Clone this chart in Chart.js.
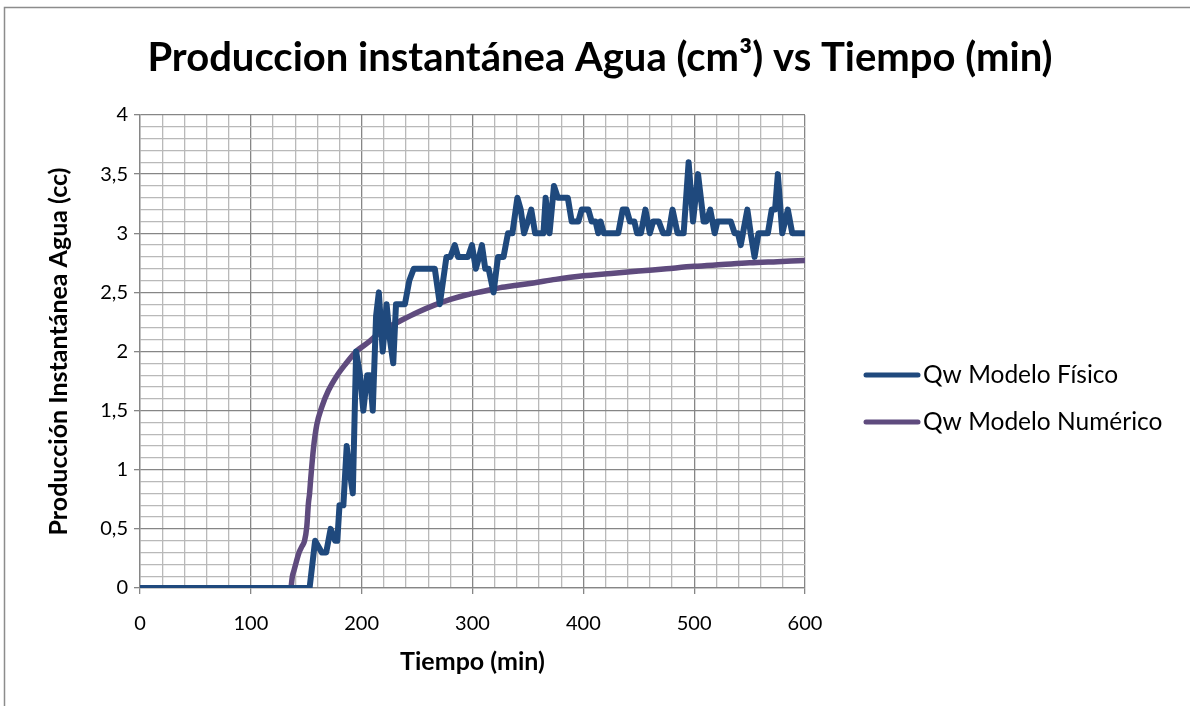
<!DOCTYPE html>
<html>
<head>
<meta charset="utf-8">
<script src="https://cdn.jsdelivr.net/npm/chart.js@4.4.1/dist/chart.umd.min.js"></script>
<style>
  html, body { margin: 0; padding: 0; background: #ffffff; }
  #chart { display: block; }
</style>
</head>
<body>
<canvas id="chart" width="1190" height="706"></canvas>
<script>
// Chart text
const chartTitle = 'Produccion instantánea Agua (cm³) vs Tiempo (min)';
const xAxisTitle = 'Tiempo (min)';
const yAxisTitle = 'Producción Instantánea Agua (cc)';
const seriesNames = ['Qw Modelo Físico', 'Qw Modelo Numérico'];

// Measured water production (physical model): time in min, rate in cc
const tiempoFisico = [
  0, 153, 158, 164, 168, 172, 176, 178, 180, 183.5,
  186.5, 189, 192, 195, 198.5, 201.5, 205, 207.5, 210, 213,
  215.5, 219, 222.5, 225.5, 228.5, 231, 239, 243, 247, 266,
  270.5, 276.5, 280, 284, 287, 296, 299.5, 303, 306, 308.5,
  311.5, 314.5, 319, 323, 328, 332, 336, 340.5, 343.5, 346.5,
  350, 353, 356.5, 364, 366, 369.5, 373.5, 377, 386, 389.5,
  395.5, 398.5, 404.5, 407.5, 411, 413.5, 415.5, 418.5, 431.5, 435.5,
  439, 442, 446, 448.5, 452, 456, 460, 463, 468, 472,
  477, 480.5, 485, 490.5, 495, 499, 503.5, 508.5, 511, 514.5,
  518.5, 521, 533, 536.5, 539.5, 542, 548, 551, 554.5, 558,
  566.5, 570, 573, 575.5, 579.5, 584.5, 588.5, 600
];
const qwFisico = [
  0, 0, 0.4, 0.3, 0.3, 0.5, 0.4, 0.4, 0.7, 0.7,
  1.2, 1.0, 0.8, 2.0, 1.8, 1.5, 1.8, 1.8, 1.5, 2.3,
  2.5, 2.0, 2.4, 2.1, 1.9, 2.4, 2.4, 2.6, 2.7, 2.7,
  2.4, 2.8, 2.8, 2.9, 2.8, 2.8, 2.9, 2.7, 2.8, 2.9,
  2.7, 2.7, 2.5, 2.8, 2.8, 3.0, 3.0, 3.3, 3.2, 3.0,
  3.1, 3.2, 3.0, 3.0, 3.3, 3.0, 3.4, 3.3, 3.3, 3.1,
  3.1, 3.2, 3.2, 3.1, 3.1, 3.0, 3.1, 3.0, 3.0, 3.2,
  3.2, 3.1, 3.1, 3.0, 3.0, 3.2, 3.0, 3.1, 3.1, 3.0,
  3.0, 3.2, 3.0, 3.0, 3.6, 3.1, 3.5, 3.1, 3.1, 3.2,
  3.0, 3.1, 3.1, 3.0, 3.0, 2.9, 3.2, 3.0, 2.8, 3.0,
  3.0, 3.2, 3.2, 3.5, 3.0, 3.2, 3.0, 3.0
];

// Simulated water production (numerical model)
const tiempoNumerico = [
  0, 136, 137.5, 139, 141, 143.5, 146, 148.5, 150.5, 152,
  153, 154, 156.5, 159.5, 164, 170, 178, 186, 195, 205,
  215, 225, 235, 250, 265, 280, 295, 310, 325, 340,
  355, 375, 400, 425, 450, 475, 500, 525, 550, 575,
  600
];
const qwNumerico = [
  0, 0, 0.1, 0.15, 0.22, 0.3, 0.35, 0.4, 0.52, 0.72,
  0.8, 0.92, 1.18, 1.38, 1.53, 1.67, 1.8, 1.9, 2.0, 2.07,
  2.15, 2.21, 2.26, 2.33, 2.39, 2.44, 2.48, 2.51, 2.54, 2.56,
  2.58, 2.61, 2.64, 2.66, 2.68, 2.70, 2.72, 2.735, 2.75, 2.76,
  2.77
];

// Axis ranges and tick steps
const xRange = [0, 600];
const yRange = [0, 4];
const xMajorStep = 100, xMinorStep = 20;
const yMajorStep = 0.5, yMinorStep = 0.1;

const seriesColors = ['#1F497D', '#5F4B7E'];
const fontFamily = 'Lato, "Open Sans", sans-serif';
const majorGrid = '#868686';
const minorGrid = '#B9B9B9';

function toPoints(xs, ys) {
  return xs.map((x, i) => ({ x: x, y: ys[i] }));
}

function isMajor(value, step) {
  const r = value / step;
  return Math.abs(r - Math.round(r)) < 1e-6;
}

// White page with the outer frame
const framePlugin = {
  id: 'frame',
  beforeDraw(chart) {
    const c = chart.ctx;
    c.save();
    c.fillStyle = '#ffffff';
    c.fillRect(0, 0, chart.width, chart.height);
    c.strokeStyle = '#8C8C8C';
    c.lineWidth = 1.5;
    c.strokeRect(4.5, 7.5, chart.width + 20, chart.height + 20);
    c.restore();
  }
};

// Centered bold title above the plot
const titlePlugin = {
  id: 'mainTitle',
  afterDraw(chart) {
    const c = chart.ctx;
    c.save();
    c.fillStyle = '#000000';
    c.font = 'bold 40px ' + fontFamily;
    c.textAlign = 'center';
    c.textBaseline = 'middle';
    c.fillText(chartTitle, 600, 58);
    c.restore();
  }
};

// Legend to the right of the plot, one line sample per series
const legendPlugin = {
  id: 'sideLegend',
  afterDraw(chart) {
    const c = chart.ctx;
    c.save();
    c.font = '24.5px ' + fontFamily;
    c.textBaseline = 'middle';
    c.textAlign = 'left';
    chart.data.datasets.forEach((ds, i) => {
      const y = 375 + i * 47;
      c.strokeStyle = ds.borderColor;
      c.lineWidth = 5;
      c.lineCap = 'round';
      c.beginPath();
      c.moveTo(866, y);
      c.lineTo(918, y);
      c.stroke();
      c.fillStyle = '#000000';
      c.fillText(ds.label, 923, y);
    });
    c.restore();
  }
};

new Chart(document.getElementById('chart'), {
  type: 'line',
  data: {
    datasets: [
      {
        label: seriesNames[0],
        data: toPoints(tiempoFisico, qwFisico),
        borderColor: seriesColors[0],
        backgroundColor: seriesColors[0],
        borderWidth: 6,
        pointRadius: 0,
        tension: 0,
        borderJoinStyle: 'round',
        borderCapStyle: 'round',
        fill: false
      },
      {
        label: seriesNames[1],
        data: toPoints(tiempoNumerico, qwNumerico),
        borderColor: seriesColors[1],
        backgroundColor: seriesColors[1],
        borderWidth: 5.5,
        pointRadius: 0,
        cubicInterpolationMode: 'monotone',
        borderJoinStyle: 'round',
        borderCapStyle: 'round',
        fill: false
      }
    ]
  },
  options: {
    responsive: false,
    animation: false,
    events: [],
    layout: { padding: { left: 0, right: 385, top: 115, bottom: 0 } },
    plugins: {
      legend: { display: false },
      title: { display: false },
      tooltip: { enabled: false }
    },
    scales: {
      x: {
        type: 'linear',
        min: xRange[0],
        max: xRange[1],
        afterFit(scale) { scale.height = 118; },
        ticks: {
          stepSize: xMinorStep,
          autoSkip: false,
          maxRotation: 0,
          padding: 18,
          color: '#000000',
          font: { family: fontFamily, size: 20 },
          callback: (v) => isMajor(v, xMajorStep) ? String(Math.round(v)) : ''
        },
        grid: {
          color: (ctx) => isMajor(ctx.tick.value, xMajorStep) ? majorGrid : minorGrid,
          tickColor: (ctx) => isMajor(ctx.tick.value, xMajorStep) ? majorGrid : 'rgba(0,0,0,0)',
          tickLength: 6,
          lineWidth: 1.3
        },
        border: { color: majorGrid, width: 1.3 },
        title: {
          display: true,
          text: xAxisTitle,
          color: '#000000',
          font: { family: fontFamily, size: 25, weight: 'bold' },
          padding: { top: 0, bottom: 29 }
        }
      },
      y: {
        type: 'linear',
        min: yRange[0],
        max: yRange[1],
        afterFit(scale) { scale.width = 140; },
        ticks: {
          stepSize: yMinorStep,
          autoSkip: false,
          maxTicksLimit: 1000,
          padding: 6,
          color: '#000000',
          font: { family: fontFamily, size: 20 },
          callback: (v) => isMajor(v, yMajorStep)
            ? (Math.round(v * 10) / 10).toString().replace('.', ',')
            : ''
        },
        grid: {
          color: (ctx) => isMajor(ctx.tick.value, yMajorStep) ? majorGrid : minorGrid,
          tickColor: (ctx) => isMajor(ctx.tick.value, yMajorStep) ? majorGrid : 'rgba(0,0,0,0)',
          tickLength: 6,
          lineWidth: 1.3
        },
        border: { color: majorGrid, width: 1.3 },
        title: {
          display: true,
          text: yAxisTitle,
          color: '#000000',
          font: { family: fontFamily, size: 25, weight: 'bold' },
          padding: { top: 44, bottom: 0 }
        }
      }
    }
  },
  plugins: [framePlugin, titlePlugin, legendPlugin]
});
</script>
</body>
</html>
